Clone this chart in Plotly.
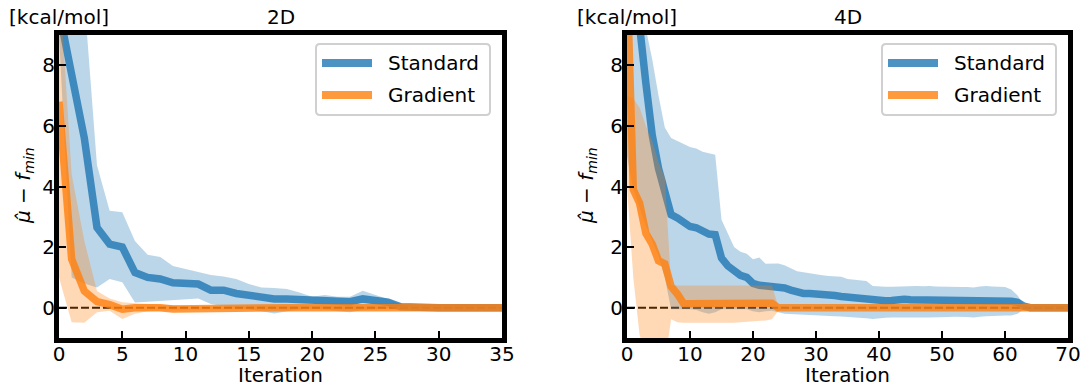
import plotly.graph_objects as go

# ---------------- data ----------------
iters_2d = list(range(0, 36))
std_2d = [9.8, 7.7, 5.6, 2.65, 2.1, 2.0, 1.16, 1.0, 0.95, 0.82, 0.8, 0.78, 0.58, 0.58, 0.47, 0.4,
          0.31, 0.29, 0.29, 0.26, 0.23, 0.23, 0.2, 0.2, 0.29, 0.25, 0.18, 0.03, 0, 0, 0, 0, 0, 0, 0, 0]
std_2d_hi = [14, 12, 10.2, 4.7, 3.2, 3.15, 2.2, 1.75, 1.67, 1.38, 1.28, 1.2, 1.08, 1.03, 0.95, 0.78,
             0.67, 0.65, 0.62, 0.5, 0.36, 0.42, 0.36, 0.36, 0.56, 0.42, 0.29, 0.12, 0.03, 0.03, 0.03,
             0.03, 0.03, 0.03, 0.03, 0.03]
std_2d_lo = [9.0, 1.0, 0.8, 0.67, 0.95, 0.84, 0.17, 0.2, 0.22, 0.25, 0.28, 0.3, 0.12, 0.05, 0.0, -0.05,
             -0.12, -0.19, -0.12, -0.05, -0.03, -0.05, -0.12, -0.15, -0.08, -0.05, -0.02, -0.02, -0.02,
             -0.02, -0.02, -0.02, -0.02, -0.02, -0.02, -0.02]
grad_2d = [6.8, 1.6, 0.55, 0.2, 0.1, -0.05, 0.0, 0.02, 0.0, -0.04, -0.03, -0.01, 0, 0, 0, 0, 0, 0, 0,
           0, 0, 0, 0, 0, 0, 0, 0, 0, 0, 0, 0, 0, 0, 0, 0, 0]
grad_2d_hi = [11, 4.4, 2.2, 0.55, 0.3, 0.18, 0.15, 0.12, 0.1, 0.08, 0.06, 0.05, 0.05, 0.05, 0.05, 0.05,
              0.05, 0.05, 0.05, 0.05, 0.05, 0.05, 0.05, 0.05, 0.05, 0.05, 0.05, 0.05, 0.05, 0.05, 0.05,
              0.05, 0.05, 0.05, 0.05, 0.05]
grad_2d_lo = [1.0, -0.48, -0.5, -0.15, -0.1, -0.37, -0.2, -0.12, -0.1, -0.1, -0.08, -0.06, -0.05, -0.05,
              -0.05, -0.05, -0.05, -0.05, -0.05, -0.05, -0.05, -0.05, -0.05, -0.05, -0.05, -0.05, -0.05,
              -0.05, -0.05, -0.05, -0.05, -0.05, -0.05, -0.05, -0.05, -0.05]

iters_4d = list(range(0, 71))
std_4d = [14, 11.5, 9.3, 7.4, 5.7, 4.6, 3.7, 3.07, 2.96, 2.82, 2.68, 2.64, 2.55, 2.43, 2.41, 1.64,
          1.38, 1.2, 1.07, 1.0, 0.8, 0.74, 0.72, 0.72, 0.7, 0.65, 0.58, 0.5, 0.47, 0.47, 0.46, 0.46,
          0.46, 0.4, 0.37, 0.35, 0.32, 0.29, 0.26, 0.23, 0.23, 0.23, 0.24, 0.27, 0.28, 0.26, 0.26,
          0.24, 0.23, 0.24, 0.25, 0.25, 0.24, 0.23, 0.23, 0.23, 0.23, 0.24, 0.25, 0.24, 0.23, 0.21,
          0.18, 0.05, 0, 0, 0, 0, 0, 0, 0]
std_4d_hi = [14, 12, 11, 9.2, 8.2, 7.0, 5.95, 5.6, 5.5, 5.4, 5.3, 5.25, 5.15, 5.1, 5.05, 2.9, 2.45,
             2.0, 1.85, 1.78, 1.6, 1.66, 1.45, 1.46, 1.46, 1.4, 1.3, 1.2, 1.17, 1.13, 1.1, 1.07, 1.05,
             1.03, 1.02, 0.95, 0.93, 0.9, 0.88, 0.72, 0.7, 0.69, 0.69, 0.7, 0.72, 0.72, 0.72, 0.71,
             0.72, 0.7, 0.69, 0.69, 0.69, 0.68, 0.68, 0.67, 0.7, 0.72, 0.7, 0.69, 0.68, 0.6, 0.4, 0.1,
             0.06, 0.06, 0.06, 0.06, 0.06, 0.06, 0.06]
std_4d_lo = [5.0, 3.9, 3.3, 2.7, 2.2, 1.7, 1.0, -0.05, -0.05, -0.05, -0.05, -0.08, -0.15, -0.2, -0.15,
             -0.05, -0.05, -0.05, -0.05, -0.05, -0.12, -0.15, -0.12, -0.1, -0.15, -0.2, -0.22, -0.23,
             -0.24, -0.25, -0.25, -0.26, -0.27, -0.28, -0.29, -0.3, -0.32, -0.33, -0.35, -0.37, -0.36,
             -0.33, -0.32, -0.3, -0.3, -0.31, -0.32, -0.32, -0.32, -0.32, -0.32, -0.31, -0.3, -0.3,
             -0.31, -0.32, -0.3, -0.28, -0.26, -0.26, -0.26, -0.26, -0.2, -0.05, -0.03, -0.03, -0.03,
             -0.03, -0.03, -0.03, -0.03]
grad_4d = [11, 3.9, 3.45, 2.45, 2.1, 1.55, 1.45, 0.7, 0.45, 0.13, 0.13, 0.13, 0.13, 0.13, 0.12, 0.12,
           0.12, 0.12, 0.12, 0.12, 0.12, 0.13, 0.14, 0.15, 0.0, 0, 0, 0, 0, 0, 0, 0, 0, 0, 0, 0, 0,
           0, 0, 0, 0, 0, 0, 0, 0, 0, 0, 0, 0, 0, 0, 0, 0, 0, 0, 0, 0, 0, 0, 0, 0, 0, 0, 0, 0, 0, 0,
           0, 0, 0, 0]
grad_4d_hi = [7.0, 6.9, 6.6, 6.0, 5.5, 4.8, 4.3, 0.75, 0.73, 0.73, 0.73, 0.73, 0.73, 0.73, 0.73, 0.73,
              0.73, 0.73, 0.73, 0.73, 0.73, 0.73, 0.73, 0.73, 0.05] + [0.03] * 46
grad_4d_lo = [4.0, 1.0, -0.9, -1.5, -2.0, -2.0, -1.8, -0.38, -0.48, -0.5, -0.52, -0.52, -0.52, -0.52,
              -0.5, -0.5, -0.5, -0.5, -0.48, -0.47, -0.45, -0.43, -0.42, -0.38, -0.1] + [-0.03] * 46

x_ticks_2d = [0, 5, 10, 15, 20, 25, 30, 35]
x_ticks_4d = [0, 10, 20, 30, 40, 50, 60, 70]
y_ticks = [0, 2, 4, 6, 8]
titles = ["2D", "4D"]
series_names = ["Standard", "Gradient"]

# ---------------- style ----------------
FONT = "DejaVu Sans"
BLUE_LINE = "rgba(31,119,180,0.8)"
ORANGE_LINE = "rgba(255,127,14,0.8)"
BLUE_FILL = "rgba(31,119,180,0.3)"
ORANGE_FILL = "rgba(255,127,14,0.3)"
W, H = 1083, 386
ML, MR, MT, MB = 59, 15, 35, 48
PW = W - ML - MR
PH = H - MT - MB


def px2paper_x(px):
    return (px - ML) / PW


def px2paper_y(py):
    return (H - MB - py) / PH


fig = go.Figure()

panels = [
    dict(x=iters_2d, s=std_2d, sh=std_2d_hi, sl=std_2d_lo, g=grad_2d, gh=grad_2d_hi, gl=grad_2d_lo,
         xa="x", ya="y"),
    dict(x=iters_4d, s=std_4d, sh=std_4d_hi, sl=std_4d_lo, g=grad_4d, gh=grad_4d_hi, gl=grad_4d_lo,
         xa="x2", ya="y2"),
]

for p in panels:
    xs = p["x"]
    fig.add_trace(go.Scatter(x=[xs[0], xs[-1]], y=[0, 0], mode="lines",
                             line=dict(color="black", width=2, dash="8px,3px"),
                             showlegend=False, hoverinfo="skip", xaxis=p["xa"], yaxis=p["ya"]))
    fig.add_trace(go.Scatter(x=xs + xs[::-1], y=p["sh"] + p["sl"][::-1], fill="toself",
                             fillcolor=BLUE_FILL, line=dict(width=0), mode="lines",
                             showlegend=False, hoverinfo="skip", xaxis=p["xa"], yaxis=p["ya"]))
    fig.add_trace(go.Scatter(x=xs, y=p["s"], mode="lines", name=series_names[0],
                             line=dict(color=BLUE_LINE, width=7.5), showlegend=False,
                             xaxis=p["xa"], yaxis=p["ya"]))
    fig.add_trace(go.Scatter(x=xs + xs[::-1], y=p["gh"] + p["gl"][::-1], fill="toself",
                             fillcolor=ORANGE_FILL, line=dict(width=0), mode="lines",
                             showlegend=False, hoverinfo="skip", xaxis=p["xa"], yaxis=p["ya"]))
    fig.add_trace(go.Scatter(x=xs, y=p["g"], mode="lines", name=series_names[1],
                             line=dict(color=ORANGE_LINE, width=7.5), showlegend=False,
                             xaxis=p["xa"], yaxis=p["ya"]))

axis_common = dict(showline=True, linecolor="black", linewidth=5, mirror=True,
                   ticks="inside", ticklen=7, tickwidth=2, tickcolor="black",
                   showgrid=False, zeroline=False,
                   tickfont=dict(family=FONT, size=20, color="black"))

left_dom = [0, px2paper_x(502)]
right_dom = [px2paper_x(627), 1]

fig.update_layout(
    width=W, height=H,
    margin=dict(l=ML, r=MR, t=MT, b=MB, autoexpand=False),
    paper_bgcolor="white", plot_bgcolor="white",
    font=dict(family=FONT, size=20, color="black"),
    showlegend=False,
    xaxis=dict(domain=left_dom, range=[0, 35], tickvals=x_ticks_2d, anchor="y",
               ticklabelstandoff=-6, **axis_common),
    yaxis=dict(domain=[0, 1], range=[-1, 9], tickvals=y_ticks, anchor="x",
               ticklabelstandoff=-5, **axis_common),
    xaxis2=dict(domain=right_dom, range=[0, 70], tickvals=x_ticks_4d, anchor="y2",
                ticklabelstandoff=-6, **axis_common),
    yaxis2=dict(domain=[0, 1], range=[-1, 9], tickvals=y_ticks, anchor="x2",
                ticklabelstandoff=-5, **axis_common),
)

# ---- legend boxes (drawn like matplotlib's legend) ----
shapes = []
annotations = []


def rounded_rect(x0, y0, x1, y1, r):
    X = px2paper_x
    Y = px2paper_y
    return (f"M{X(x0 + r)},{Y(y0)} L{X(x1 - r)},{Y(y0)} Q{X(x1)},{Y(y0)} {X(x1)},{Y(y0 + r)} "
            f"L{X(x1)},{Y(y1 - r)} Q{X(x1)},{Y(y1)} {X(x1 - r)},{Y(y1)} "
            f"L{X(x0 + r)},{Y(y1)} Q{X(x0)},{Y(y1)} {X(x0)},{Y(y1 - r)} "
            f"L{X(x0)},{Y(y0 + r)} Q{X(x0)},{Y(y0)} {X(x0 + r)},{Y(y0)} Z")


for box_left in (316, 882):
    box_right = box_left + 174
    shapes.append(dict(type="path", xref="paper", yref="paper",
                       path=rounded_rect(box_left, 44, box_right, 115, 4),
                       fillcolor="rgba(255,255,255,0.8)", line=dict(color="#d0d0d0", width=2)))
    for name, color, yy in ((series_names[0], BLUE_LINE, 63), (series_names[1], ORANGE_LINE, 95)):
        shapes.append(dict(type="line", xref="paper", yref="paper",
                           x0=px2paper_x(box_left + 6), x1=px2paper_x(box_left + 56),
                           y0=px2paper_y(yy), y1=px2paper_y(yy),
                           line=dict(color=color, width=8)))
        annotations.append(dict(text=name, x=px2paper_x(box_left + 70), y=px2paper_y(yy),
                                xref="paper", yref="paper", showarrow=False,
                                xanchor="left", yanchor="middle",
                                font=dict(family=FONT, size=20, color="black")))

ylab = "<i>μ̂</i> − <i>f</i><sub><i>min</i></sub>"
for i, (cx, ylx, unitx) in enumerate([(280.5, 24, 7), (847.5, 587, 575)]):
    annotations.append(dict(text=titles[i], x=px2paper_x(cx), y=px2paper_y(17), xref="paper",
                            yref="paper", showarrow=False, xanchor="center", yanchor="middle",
                            font=dict(family=FONT, size=20, color="black")))
    annotations.append(dict(text="[kcal/mol]", x=px2paper_x(unitx), y=px2paper_y(17), xref="paper",
                            yref="paper", showarrow=False, xanchor="left", yanchor="middle",
                            font=dict(family=FONT, size=20, color="black")))
    annotations.append(dict(text=ylab, x=px2paper_x(ylx), y=px2paper_y(186), xref="paper",
                            yref="paper", showarrow=False, xanchor="center", yanchor="middle",
                            textangle=-90, font=dict(family=FONT, size=20, color="black")))
    annotations.append(dict(text="Iteration", x=px2paper_x(cx), y=px2paper_y(375), xref="paper",
                            yref="paper", showarrow=False, xanchor="center", yanchor="middle",
                            font=dict(family=FONT, size=20, color="black")))
fig.update_layout(annotations=annotations, shapes=shapes)

fig.write_html("out.html")
